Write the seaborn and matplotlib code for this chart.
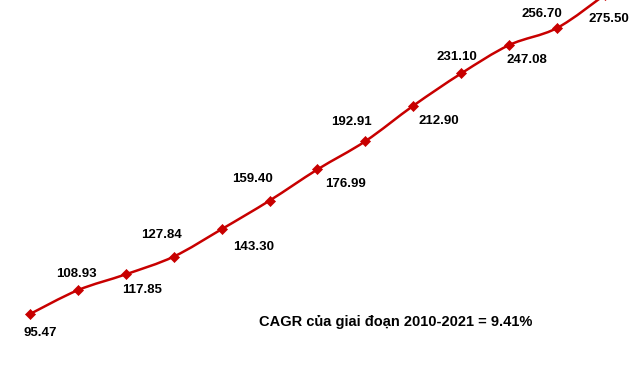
import numpy as np
import pandas as pd
import seaborn as sns
from matplotlib import pyplot as plt
from matplotlib.path import Path
from matplotlib.patches import PathPatch

# Values, one per year
YEARS = list(range(2010, 2023))
VALUES = [95.47, 108.93, 117.85, 127.84, 143.30, 159.40, 176.99,
          192.91, 212.90, 231.10, 247.08, 256.70, 275.50]
LABELS = [f"{v:.2f}" for v in VALUES]
NOTE = "CAGR của giai đoạn 2010-2021 = 9.41%"

# Label offsets in pixels (placed by hand in the original, alternating below/above)
LABEL_OFFSETS = [(10, -19), (-1, 16), (16, -16), (-12, 22), (32, -18), (-17, 22),
                 (28, -15), (-14, 19), (26, -15), (-4, 16), (18, -15), (-15, 14),
                 (4, -24)]

RED = "#C80000"


def smooth_path(xs, ys):
    # Catmull-Rom style smoothing, like the "smoothed line" option in spreadsheets
    pts = np.column_stack([xs, ys]).astype(float)
    verts = [pts[0]]
    codes = [Path.MOVETO]
    n = len(pts)
    for i in range(n - 1):
        p_prev = pts[max(i - 1, 0)]
        p0, p1 = pts[i], pts[i + 1]
        p_next = pts[min(i + 2, n - 1)]
        c1 = p0 + (p1 - p_prev) / 6
        c2 = p1 - (p_next - p0) / 6
        verts += [c1, c2, p1]
        codes += [Path.CURVE4] * 3
    return Path(verts, codes)


def main():
    df = pd.DataFrame({"year": YEARS, "value": VALUES})

    sns.set_theme(style="white")
    plt.rcParams["font.family"] = ["Liberation Sans", "DejaVu Sans"]

    fig = plt.figure(figsize=(6.38, 3.75), dpi=100)
    ax = fig.add_axes([0, 0, 1, 1])

    # Smoothed line
    ax.add_patch(PathPatch(smooth_path(df["year"], df["value"]), facecolor="none",
                           edgecolor=RED, lw=1.8, zorder=2))

    # Diamond markers
    sns.scatterplot(data=df, x="year", y="value", marker="D", s=26, color=RED,
                    edgecolor=RED, linewidth=0.5, ax=ax, zorder=3, legend=False)

    for (x, y), lab, off in zip(zip(YEARS, VALUES), LABELS, LABEL_OFFSETS):
        ax.annotate(lab, (x, y), xytext=off, textcoords="offset pixels",
                    ha="center", va="center", fontsize=9.5, fontweight="bold",
                    color="black", annotation_clip=False)

    ax.text(0.62, 0.142, NOTE, transform=ax.transAxes, ha="center", va="center",
            fontsize=10.5, fontweight="bold", color="black")

    ax.set_xlim(2010 - 0.626, 2010 + 12.69)
    ax.set_ylim(61.1, 272.5)
    ax.set_axis_off()

    plt.savefig("out.png", dpi=100)
    plt.close()


if __name__ == "__main__":
    main()
